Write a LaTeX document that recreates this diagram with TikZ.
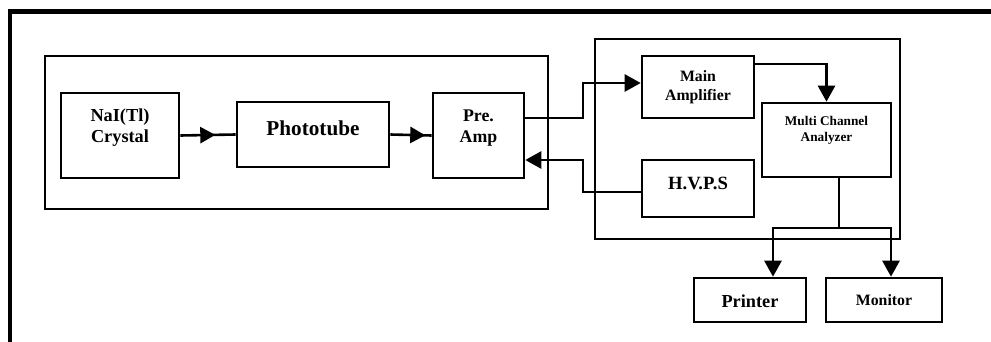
\documentclass[tikz,border=0pt]{standalone}
\usepackage{fontspec}
\setmainfont{Liberation Serif}
\usetikzlibrary{arrows.meta,decorations.markings}

\tikzset{
    block/.style={draw, line width=2.6pt, inner sep=0pt},
    wire/.style={line width=2.6pt},
    arr/.style={wire, -{Triangle[length=16pt, width=17pt]}},
    flowarr/.style={wire, decoration={markings, mark=at position 35pt with {\arrow{Triangle[length=15pt, width=16pt]}}}, postaction={decorate}},
    lbl/.style 2 args={align=center, inner sep=0pt, font=\fontsize{#1pt}{#2pt}\selectfont\bfseries},
}

\begin{document}
\begin{tikzpicture}[x=1pt, y=-1pt]
        \useasboundingbox (0, 0) rectangle (991, 342);
        
        % Frame
        \draw[line width=4.2pt] (10, 350) -- (10, 11.5) -- (1000, 11.5);
        
        % Detector
        \draw[wire] (45, 56) rectangle (548, 209);
        \node[block, minimum width=118pt, minimum height=85pt] (nai) at (120, 135.5) {};
        \node[block, minimum width=152pt, minimum height=65pt] (photo) at (313, 134.5) {};
        \node[block, minimum width=91pt, minimum height=85pt] (pre) at (478.5, 135.5) {};
        
        \node[lbl={18.3}{21}] (naitext) at (120, 128) {NaI(Tl)\\Crystal};
        \node[lbl={21.2}{24}] (phototext) at (313, 128.5) {Phototube};
        \node[lbl={17.8}{21}] (pretext) at (478.5, 128) {Pre.\\Amp};
        
        % Analyser
        \draw[wire] (595, 39) rectangle (900, 239);
        \node[block, minimum width=112pt, minimum height=62pt] (main) at (698, 87) {};
        \node[block, minimum width=112pt, minimum height=57pt] (hvps) at (698, 188.5) {};
        \node[block, minimum width=129pt, minimum height=74pt] (mca) at (826.5, 140) {};
        
        \node[lbl={15.8}{19}] (maintext) at (698, 87.5) {Main\\Amplifier};
        \node[lbl={18.7}{22}] (hvpstext) at (698, 183) {H.V.P.S};
        \node[lbl={13.3}{15.7}] (mcatext) at (826.5, 130.5) {Multi Channel\\Analyzer};
        
        % Output
        \node[block, minimum width=112pt, minimum height=44pt] (printer) at (750, 300) {};
        \node[block, minimum width=116pt, minimum height=44pt] (monitor) at (884, 300) {};
        
        \node[lbl={18.3}{22}] (printertext) at (750, 301) {Printer};
        \node[lbl={15.8}{19}] (monitortext) at (884, 300) {Monitor};
        
        % Signal
        \draw[flowarr] (nai.east) -- (photo.west);
        \draw[flowarr] (photo.east) -- (pre.west);
        \draw[arr] (pre.east |- 0,118) -- (583, 118) |- (main.west |- 0,83);
        \draw[arr] (hvps.west |- 0,192) -- (583, 192) |- (pre.east |- 0,160);
        \draw[arr] (main.east |- 0,64) -| (mca.north);
        
        \draw[wire] (mca.south -| 839,0) -- (839, 228) coordinate (split);
        \draw[arr] (split) -| (printer.north -| 773,0);
        \draw[arr] (split) -| (monitor.north -| 891,0);
    \end{tikzpicture}
\end{document}
